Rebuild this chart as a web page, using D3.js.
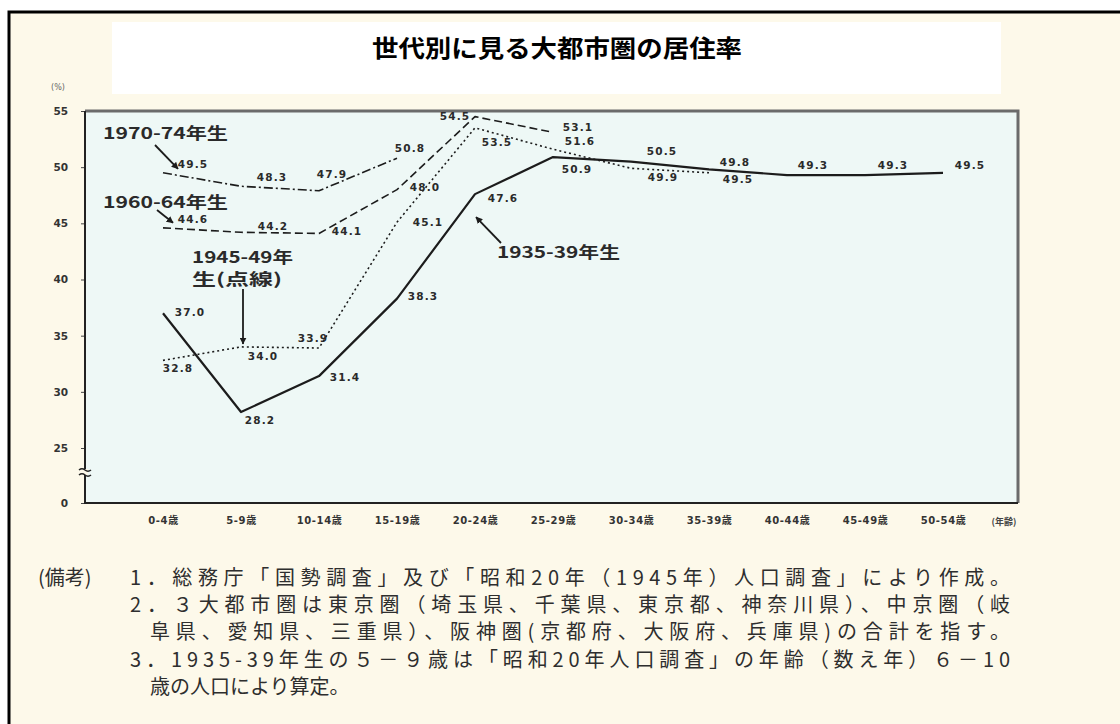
<!DOCTYPE html>
<html>
<head>
<meta charset="utf-8">
<script src="https://cdn.jsdelivr.net/npm/d3@7"></script>
<style>
  body { margin: 0; background: #ffffff; }
  svg { display: block; }
</style>
</head>
<body>
<svg id="chart" width="1120" height="724"></svg>
<script>
// ---- data -------------------------------------------------------------
const titleText = "世代別に見る大都市圏の居住率";
const ageGroups = ["0-4歳", "5-9歳", "10-14歳", "15-19歳", "20-24歳", "25-29歳",
                   "30-34歳", "35-39歳", "40-44歳", "45-49歳", "50-54歳"];
// residence share (%) in the three metropolitan areas, by birth cohort
const born1935 = [37.0, 28.2, 31.4, 38.3, 47.6, 50.9, 50.5, 49.8, 49.3, 49.3, 49.5];
const born1945 = [32.8, 34.0, 33.9, 45.1, 53.5, 51.6, 49.9, 49.5];
const born1960 = [44.6, 44.2, 44.1, 48.0, 54.5, 53.1];
const born1970 = [49.5, 48.3, 47.9, 50.8];
const seriesNames = ["1935-39年生", "1945-49年生", "1960-64年生", "1970-74年生"];
const yTicks = [0, 25, 30, 35, 40, 45, 50, 55];
const noteHead = "(備考)";
const notes = [
  "1．総務庁「国勢調査」及び「昭和20年（1945年）人口調査」により作成。",
  "2．３大都市圏は東京圏（埼玉県、千葉県、東京都、神奈川県）、中京圏（岐",
  "阜県、愛知県、三重県）、阪神圏(京都府、大阪府、兵庫県)の合計を指す。",
  "3．1935-39年生の５－９歳は「昭和20年人口調査」の年齢（数え年）６－10",
  "歳の人口により算定。"
];

// ---- layout ------------------------------------------------------------
const plot = { left: 85, top: 111, right: 1018, bottom: 503 };
const svg = d3.select("#chart");

// page background and frame
svg.append("rect").attr("width", 1120).attr("height", 724).attr("fill", "#ffffff");
svg.append("rect").attr("x", 9).attr("y", 12).attr("width", 1200).attr("height", 800)
   .attr("fill", "#fdf9ea").attr("stroke", "#000").attr("stroke-width", 3);

// title box
svg.append("rect").attr("x", 112).attr("y", 22).attr("width", 889).attr("height", 72)
   .attr("fill", "#ffffff");
svg.append("text").attr("x", 557).attr("y", 57).attr("text-anchor", "middle")
   .attr("font-family", "'Noto Sans CJK JP', sans-serif").attr("font-weight", 700)
   .attr("font-size", 24).attr("textLength", 370).attr("lengthAdjust", "spacingAndGlyphs")
   .attr("fill", "#000").text(titleText);

// scales: the y axis is broken between 0 and 25
const x = d3.scalePoint().domain(ageGroups).range([163, 943]);
const y = d3.scaleLinear().domain([0, 25, 55]).range([plot.bottom, 448, plot.top]);

// plot panel
svg.append("rect").attr("x", plot.left).attr("y", plot.top)
   .attr("width", plot.right - plot.left).attr("height", plot.bottom - plot.top)
   .attr("fill", "#eef8f6");
svg.append("path")
   .attr("d", `M${plot.left},${plot.top}H${plot.right}V${plot.bottom}`)
   .attr("fill", "none").attr("stroke", "#6b6b6b").attr("stroke-width", 3);

// y axis
const yAxis = svg.append("g").attr("transform", `translate(${plot.left},0)`)
  .call(d3.axisLeft(y).tickValues(yTicks).tickSize(4).tickPadding(13).tickFormat(d => d));
yAxis.select(".domain").remove();
yAxis.selectAll("line").attr("stroke", "#444");
yAxis.selectAll("text").attr("font-family", "'DejaVu Sans', sans-serif")
  .attr("font-weight", 700).attr("font-size", 10.5).attr("fill", "#333");
svg.append("text").attr("x", 58).attr("y", 90).attr("text-anchor", "middle")
   .attr("font-family", "'DejaVu Sans', sans-serif").attr("font-size", 8).attr("fill", "#666")
   .text("(%)");

// x axis labels
const xAxis = svg.append("g").attr("transform", `translate(0,${plot.bottom})`)
  .call(d3.axisBottom(x).tickSize(0).tickPadding(14));
xAxis.select(".domain").remove();
xAxis.selectAll("text").attr("font-family", "'DejaVu Sans', 'Noto Sans CJK JP', sans-serif")
  .attr("font-weight", 700).attr("font-size", 10).attr("letter-spacing", 0.6).attr("fill", "#333");
svg.append("text").attr("x", 1004).attr("y", 525).attr("text-anchor", "middle")
   .attr("font-family", "'Noto Sans CJK JP', sans-serif").attr("font-weight", 700)
   .attr("font-size", 9).attr("fill", "#444").text("(年齢)");

// axis lines (left and bottom) drawn over the panel
svg.append("path")
   .attr("d", `M${plot.left},${plot.top}V${plot.bottom}H${plot.right}`)
   .attr("fill", "none").attr("stroke", "#222").attr("stroke-width", 2);

// axis break mark
const brk = svg.append("g").attr("stroke", "#222").attr("stroke-width", 1.6).attr("fill", "none");
brk.append("rect").attr("x", plot.left - 2).attr("y", 469).attr("width", 5).attr("height", 6)
   .attr("fill", "#fdf9ea").attr("stroke", "none");
brk.append("path").attr("d", "M79,470 q3,-2.5 6,0 t6,0");
brk.append("path").attr("d", "M79,475 q3,-2.5 6,0 t6,0");

// ---- series lines ------------------------------------------------------
const series = [
  { name: seriesNames[0], values: born1935, dash: null, width: 2.2 },
  { name: seriesNames[1], values: born1945, dash: "2,3", width: 1.6 },
  { name: seriesNames[2], values: born1960, dash: "8,4", width: 1.6 },
  { name: seriesNames[3], values: born1970, dash: "9,3,2,3", width: 1.6 }
];
const line = d3.line().x(d => x(d.age)).y(d => y(d.v));
series.forEach(s => {
  const pts = s.values.map((v, i) => ({ age: ageGroups[i], v }));
  svg.append("path").datum(pts).attr("d", line)
     .attr("fill", "none").attr("stroke", "#1c1c1c").attr("stroke-width", s.width)
     .attr("stroke-dasharray", s.dash).attr("stroke-linejoin", "round");
});

// value label nudges (dx, dy) relative to each point
const nudges = [
  [[27, -1], [19, 8], [26, 1], [26, -2], [28, 4], [24, 12], [31, -10], [26, -7], [26, -10], [28, -10], [27, -7]],
  [[15, 8], [22, 9], [-6, -10], [31, 0], [22, 14], [27, -8], [32, 9], [29, 7]],
  [[30, -9], [32, -6], [28, -2], [28, -2], [-20, 0], [25, -5]],
  [[30, -8], [31, -9], [13, -16], [13, -10]]
];
series.forEach((s, si) => {
  svg.append("g").selectAll("text").data(s.values).join("text")
     .attr("x", (v, i) => x(ageGroups[i]) + nudges[si][i][0])
     .attr("y", (v, i) => y(v) + nudges[si][i][1])
     .attr("dy", "0.35em").attr("text-anchor", "middle")
     .attr("font-family", "'DejaVu Sans', sans-serif").attr("font-weight", 700)
     .attr("font-size", 10.5).attr("letter-spacing", 1.2).attr("fill", "#2a2a2a")
     .text(v => v.toFixed(1));
});

// ---- cohort annotations -----------------------------------------------
const defs = svg.append("defs");
defs.append("marker").attr("id", "head").attr("viewBox", "0 0 10 10")
    .attr("refX", 9).attr("refY", 5).attr("markerWidth", 7).attr("markerHeight", 7)
    .attr("markerUnits", "userSpaceOnUse").attr("orient", "auto")
  .append("path").attr("d", "M0,0L10,5L0,10z").attr("fill", "#1c1c1c");

const labelFont = (sel) => sel.attr("font-family", "'Noto Sans CJK JP', sans-serif")
  .attr("font-weight", 700).attr("fill", "#2a2a2a");

function note(text, tx, ty, len) {
  svg.append("text").attr("x", tx).attr("y", ty).attr("font-size", 16)
     .attr("textLength", len).attr("lengthAdjust", "spacingAndGlyphs").call(labelFont).text(text);
}
function arrow(x1, y1, x2, y2) {
  svg.append("line").attr("x1", x1).attr("y1", y1).attr("x2", x2).attr("y2", y2)
     .attr("stroke", "#1c1c1c").attr("stroke-width", 1.8).attr("marker-end", "url(#head)");
}

const x0 = x(ageGroups[0]);
note(seriesNames[3], 103, 139, 125);
arrow(155, 145, x0 + 15, y(born1970[0]) - 4);
note(seriesNames[2], 103, 208, 125);
arrow(157, 210, x0 + 10, y(born1960[0]) - 5);
note("1945-49年", 192, 263, 101);
note("生(点線)", 192, 285, 90);
arrow(x(ageGroups[1]) + 2, 289, x(ageGroups[1]) + 2, y(born1945[1]) - 3);
note(seriesNames[0], 497, 258, 123);
arrow(501, 243, x(ageGroups[4]) + 1, y(born1935[4]) + 23);

// ---- notes below the chart ---------------------------------------------
const noteFont = (sel) => sel.attr("font-family", "'Noto Sans CJK JP', sans-serif")
  .attr("font-weight", 400).attr("fill", "#2e2e2e").attr("font-size", 20);
svg.append("text").attr("x", 38).attr("y", 585).call(noteFont).text(noteHead);
const noteX = [130, 130, 150, 130, 150];
const noteW = [880, 880, 860, 880, null];
notes.forEach((t, i) => {
  const tEl = svg.append("text").attr("x", noteX[i]).attr("y", 585 + i * 27.2)
    .call(noteFont).text(t);
  if (noteW[i]) tEl.attr("textLength", noteW[i]).attr("lengthAdjust", "spacing");
});
</script>
</body>
</html>
